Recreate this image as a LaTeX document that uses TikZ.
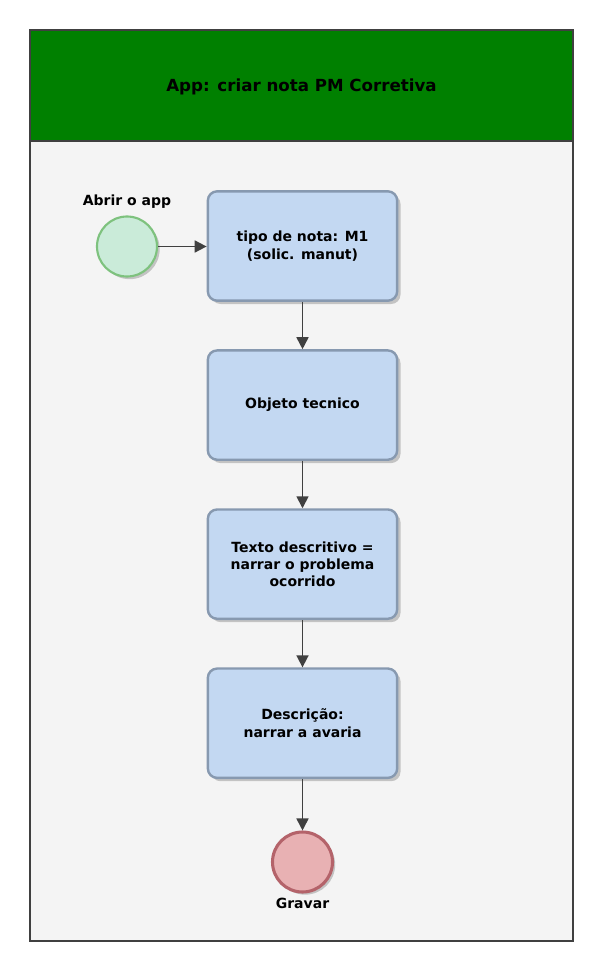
\documentclass[tikz,border=0pt]{standalone}
\usepackage{fontspec}
\setmainfont{DejaVu Sans}
\usetikzlibrary{positioning,shadows,arrows.meta}

\definecolor{poolgreen}{HTML}{008000}
\definecolor{poolbody}{HTML}{F4F4F4}
\definecolor{lineg}{HTML}{404040}
\definecolor{taskfill}{HTML}{C3D8F2}
\definecolor{taskedge}{HTML}{8799B0}
\definecolor{startfill}{HTML}{CAEBD9}
\definecolor{startedge}{HTML}{7EC27E}
\definecolor{endfill}{HTML}{E8B1B3}
\definecolor{endedge}{HTML}{B4636A}

\tikzset{
  task/.style={draw=taskedge, fill=taskfill, line width=1.8pt, rounded corners=7pt,
    minimum width=142pt, minimum height=82pt, align=center,
    font=\bfseries\fontsize{10.5}{13}\selectfont,
    drop shadow={shadow xshift=2.5pt, shadow yshift=-2.5pt, fill=black, opacity=0.2}},
  startev/.style={circle, draw=startedge, fill=startfill, line width=1.6pt, minimum size=45pt,
    drop shadow={shadow xshift=2pt, shadow yshift=-2pt, fill=black, opacity=0.2}},
  endev/.style={circle, draw=endedge, fill=endfill, line width=2.3pt, minimum size=45pt,
    drop shadow={shadow xshift=2pt, shadow yshift=-2pt, fill=black, opacity=0.2}},
  evlabel/.style={font=\bfseries\fontsize{10.5}{13}\selectfont},
  flow/.style={draw=lineg, line width=1.3pt, -{Triangle[length=9pt, width=9pt]}}
}

\begin{document}
\begin{tikzpicture}[x=0.75pt, y=-0.75pt]
    \useasboundingbox (0,0) rectangle (616,973);

    % pool
    \draw[fill=poolbody, draw=lineg, line width=1.5pt] (30,30) rectangle (573,941);
    \fill[poolgreen] (30,30) rectangle (573,141);
    \draw[lineg, line width=1.5pt] (30,30) rectangle (573,941);
    \draw[lineg, line width=2.2pt] (30,141) -- (573,141);
    \node (titulo) at (301.5,87) [font=\bfseries\fontsize{12.5}{15}\selectfont] {App: criar nota PM Corretiva};

    % events and tasks
    \node (abrir) at (127,246.5) [startev, label={[evlabel, label distance=2pt]above:Abrir o app}] {};
    \node (tipo) at (302.5,246) [task] {tipo de nota: M1\\(solic. manut)};
    \node (objeto) [task, below=35.5pt of tipo] {Objeto tecnico};
    \node (texto) [task, below=35.5pt of objeto] {Texto descritivo =\\narrar o problema\\ocorrido};
    \node (descr) [task, below=35.5pt of texto] {Descrição:\\narrar a avaria};
    \node (gravar) at (302.5,862) [endev, label={[evlabel, label distance=0pt]below:Gravar}] {};

    % flows
    \draw[flow] (abrir) -- (abrir -| tipo.west);
    \draw[flow] (tipo) -- (objeto);
    \draw[flow] (objeto) -- (texto);
    \draw[flow] (texto) -- (descr);
    \draw[flow] (descr) -- (gravar);
\end{tikzpicture}
\end{document}
